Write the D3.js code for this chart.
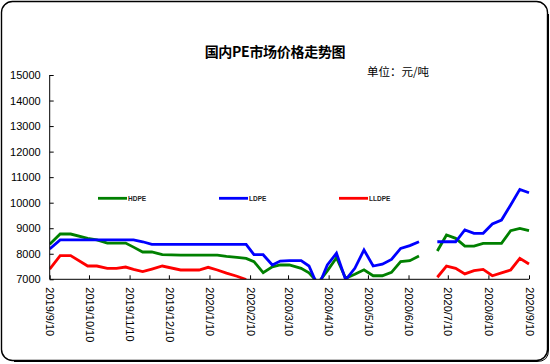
<!DOCTYPE html>
<html><head><meta charset="utf-8">
<script src="https://cdn.jsdelivr.net/npm/d3@7/dist/d3.min.js"></script>
<style>body{margin:0;background:#fff;}svg{display:block;}</style>
</head><body>
<svg id="c" width="550" height="364"></svg>
<script>
const dates = ["2019-09-10","2019-09-18","2019-09-26","2019-10-09","2019-10-16","2019-10-24","2019-10-31","2019-11-07","2019-11-13","2019-11-20","2019-11-27","2019-12-05","2019-12-19","2020-01-02","2020-01-09","2020-01-16","2020-01-23","2020-01-31","2020-02-07","2020-02-13","2020-02-20","2020-02-27","2020-03-04","2020-03-11","2020-03-20","2020-03-26","2020-04-02","2020-04-09","2020-04-16","2020-04-23","2020-04-30","2020-05-07","2020-05-14","2020-05-21","2020-05-28","2020-06-04","2020-06-11","2020-06-18","2020-06-25","2020-07-02","2020-07-09","2020-07-16","2020-07-23","2020-07-30","2020-08-06","2020-08-13","2020-08-20","2020-08-27","2020-09-03","2020-09-10"];
const hdpe = [8370,8773,8773,8600,8540,8420,8420,8420,8260,8070,8070,7963,7950,7950,7950,7950,7900,7860,7820,7690,7260,7490,7560,7560,7430,7250,6860,7330,7845,7040,7200,7370,7140,7140,7270,7690,7730,7910,null,8110,8735,8605,8300,8300,8410,8410,8410,8905,8995,8905];
const ldpe = [8185,8540,8540,8540,8540,8540,8540,8540,8540,8470,8370,8370,8370,8370,8370,8370,8370,8370,8370,7963,7963,7560,7715,7730,7730,7520,6700,7560,8020,6980,7430,8150,7520,7590,7780,8210,8320,8470,null,8470,8470,8470,8930,8800,8800,9165,9320,9910,10520,10390];
const lldpe = [7400,7925,7925,7520,7520,7430,7430,7480,7390,7300,7400,7520,7365,7365,7470,7365,7240,7120,6990,null,null,null,null,null,null,null,null,null,null,null,null,null,null,null,null,null,null,null,null,7080,7520,7430,7210,7340,7390,7140,7250,7365,7820,7600];
const seriesNames = ["HDPE","LDPE","LLDPE"];
const seriesColors = ["#008000","#0000ff","#ff0000"];
const yTicks = [7000,8000,9000,10000,11000,12000,13000,14000,15000];
const xTickLabels = ["2019/9/10","2019/10/10","2019/11/10","2019/12/10","2020/1/10","2020/2/10","2020/3/10","2020/4/10","2020/5/10","2020/6/10","2020/7/10","2020/8/10","2020/9/10"];
const titleText = "国内PE市场价格走势图";
const unitText = "单位：元/吨";

const svg = d3.select("#c");
const parse = d3.timeParse("%Y-%m-%d");
const parseTick = d3.timeParse("%Y/%m/%d");
const L = 49.7, R = 529, T = 75, B = 279.3;
const x = d3.scaleTime().domain([parseTick(xTickLabels[0]), parseTick(xTickLabels[xTickLabels.length-1])]).range([L, R]);
const y = d3.scaleLinear().domain([7000, 15000]).range([B, T]);

// border
svg.append("rect").attr("x",1.5).attr("y",1.5).attr("width",546).attr("height",359).attr("rx",11)
  .attr("fill","#fff").attr("stroke","#000").attr("stroke-width",1.4);
svg.append("path").attr("d",`M548.5,14 V350 Q548.5,361.5 537,361.5 H14`).attr("fill","none").attr("stroke","#000").attr("stroke-width",1);

svg.append("text").attr("x",275).attr("y",56.5).attr("text-anchor","middle")
  .attr("font-family","'Noto Sans CJK SC'").attr("font-weight","bold").attr("font-size",14)
  .attr("letter-spacing",-0.3).text(titleText);
svg.append("text").attr("x",367).attr("y",76).attr("font-family","'Noto Sans CJK SC'").attr("font-size",11.5).text(unitText);

const clip = svg.append("clipPath").attr("id","pc").append("rect")
  .attr("x",L).attr("y",T-10).attr("width",R-L+5).attr("height",B-T+10);

const rows = dates.map((d,i)=>({date:parse(d), v:[hdpe[i],ldpe[i],lldpe[i]]}));
const g = svg.append("g").attr("clip-path","url(#pc)");
seriesNames.forEach((n,si)=>{
  const line = d3.line().defined(r=>r.v[si]!=null).x(r=>x(r.date)).y(r=>y(r.v[si]));
  g.append("path").datum(rows).attr("d",line).attr("fill","none")
    .attr("stroke",seriesColors[si]).attr("stroke-width",2.8).attr("stroke-linejoin","miter");
});

// axes
const yAxis = d3.axisLeft(y).tickValues(yTicks).tickSize(-4).tickPadding(9).tickFormat(d3.format("d"));
const ya = svg.append("g").attr("transform",`translate(${L},0)`).call(yAxis);
ya.select(".domain").attr("d",`M0,${T}V${B}`).attr("stroke","#000");
ya.selectAll("text").attr("font-family","'Liberation Sans',Arial").attr("font-size",11).attr("fill","#000");

const xAxis = d3.axisBottom(x).tickValues(xTickLabels.map(parseTick)).tickSize(-4).tickFormat((d,i)=>xTickLabels[i]);
const xa = svg.append("g").attr("transform",`translate(0,${B})`).call(xAxis);
xa.select(".domain").attr("d",`M${L},0H${R}`).attr("stroke","#000");
xa.selectAll("text").attr("font-family","'Liberation Sans',Arial").attr("font-size",11).attr("fill","#000")
  .attr("transform","rotate(90)").attr("text-anchor","start").attr("x",8).attr("y",0).attr("dy","0.35em");

// legend
const legX = [98,219,339];
seriesNames.forEach((n,i)=>{
  svg.append("line").attr("x1",legX[i]).attr("x2",legX[i]+29).attr("y1",198.3).attr("y2",198.3)
    .attr("stroke",seriesColors[i]).attr("stroke-width",2.8);
  svg.append("text").attr("x",legX[i]+30).attr("y",200.8).attr("font-family","'Liberation Sans',Arial")
    .attr("font-weight","bold").attr("font-size",6.5).attr("fill","#222").text(n);
});
</script>
</body></html>
